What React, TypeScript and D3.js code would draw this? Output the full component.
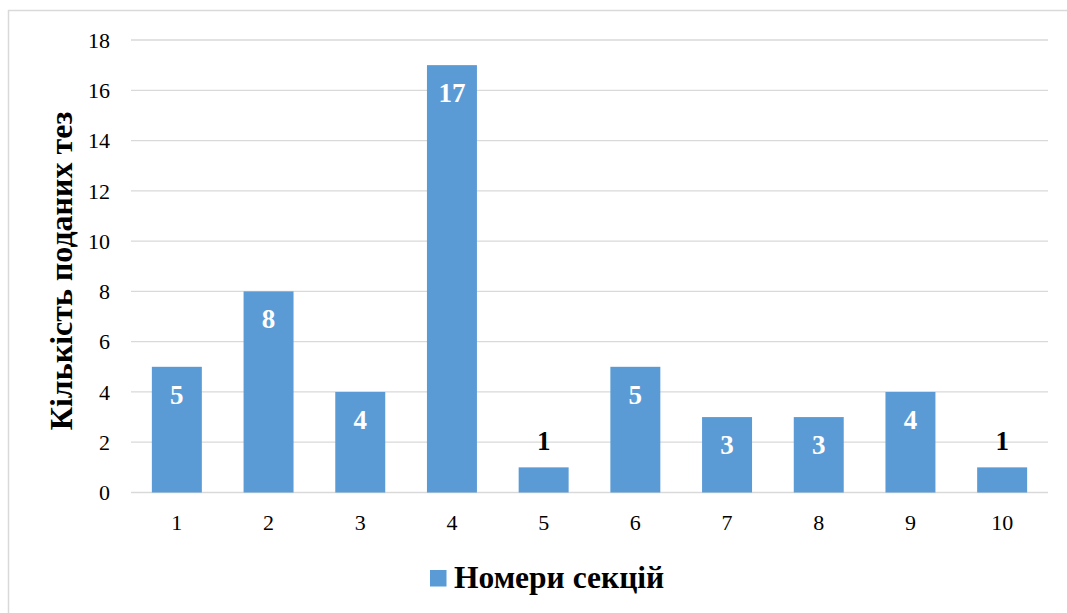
import React from "react";
import * as d3 from "d3";

const categories = ["1", "2", "3", "4", "5", "6", "7", "8", "9", "10"];
const values = [5, 8, 4, 17, 1, 5, 3, 3, 4, 1];
const yTicks = [0, 2, 4, 6, 8, 10, 12, 14, 16, 18];
const yTitle = "Кількість поданих тез";
const seriesName = "Номери секцій";

const W = 1067;
const H = 613;
const FONT = "'Liberation Serif', 'Times New Roman', serif";
const BAR = "#5b9bd5";
const GRID = "#d9d9d9";

export default function App() {
  const x = d3
    .scaleBand<string>()
    .domain(categories)
    .range([131, 1048])
    .paddingInner(0.455)
    .paddingOuter(0.2275);
  const y = d3.scaleLinear().domain([0, 18]).range([492.5, 40]);

  return (
    <div style={{ position: "absolute", left: 0, top: 0 }}>
      <svg width={W} height={H} style={{ display: "block", background: "#fff" }}>
        <line x1={8} y1={10.5} x2={W} y2={10.5} stroke={GRID} strokeWidth={1.5} />
        <line x1={8.5} y1={10} x2={8.5} y2={H} stroke={GRID} strokeWidth={1.5} />
        {yTicks.map((t) => (
          <g key={t}>
            <line x1={131} x2={1048} y1={y(t)} y2={y(t)} stroke={GRID} strokeWidth={1.3} />
            <text
              x={110}
              y={y(t)}
              dy="0.35em"
              textAnchor="end"
              fontFamily={FONT}
              fontSize={22}
              fill="#000"
            >
              {t}
            </text>
          </g>
        ))}
        {categories.map((c, i) => {
          const v = values[i];
          const bx = x(c)!;
          const top = y(v);
          const inside = v >= 3;
          return (
            <g key={c}>
              <rect x={bx} y={top} width={x.bandwidth()} height={y(0) - top} fill={BAR} />
              <text
                x={bx + x.bandwidth() / 2}
                y={inside ? top + 37 : top - 17}
                textAnchor="middle"
                fontFamily={FONT}
                fontWeight="bold"
                fontSize={27}
                fill={inside ? "#fff" : "#000"}
              >
                {v}
              </text>
              <text
                x={bx + x.bandwidth() / 2}
                y={530}
                textAnchor="middle"
                fontFamily={FONT}
                fontSize={22}
                fill="#000"
              >
                {c}
              </text>
            </g>
          );
        })}
        <text
          transform={`translate(72,271) rotate(-90)`}
          textAnchor="middle"
          fontFamily={FONT}
          fontWeight="bold"
          fontSize={32}
          fill="#000"
        >
          {yTitle}
        </text>
        <rect x={430} y={570} width={16.5} height={16.5} fill={BAR} />
        <text x={454} y={588} fontFamily={FONT} fontWeight="bold" fontSize={31.5} fill="#000">
          {seriesName}
        </text>
      </svg>
    </div>
  );
}
